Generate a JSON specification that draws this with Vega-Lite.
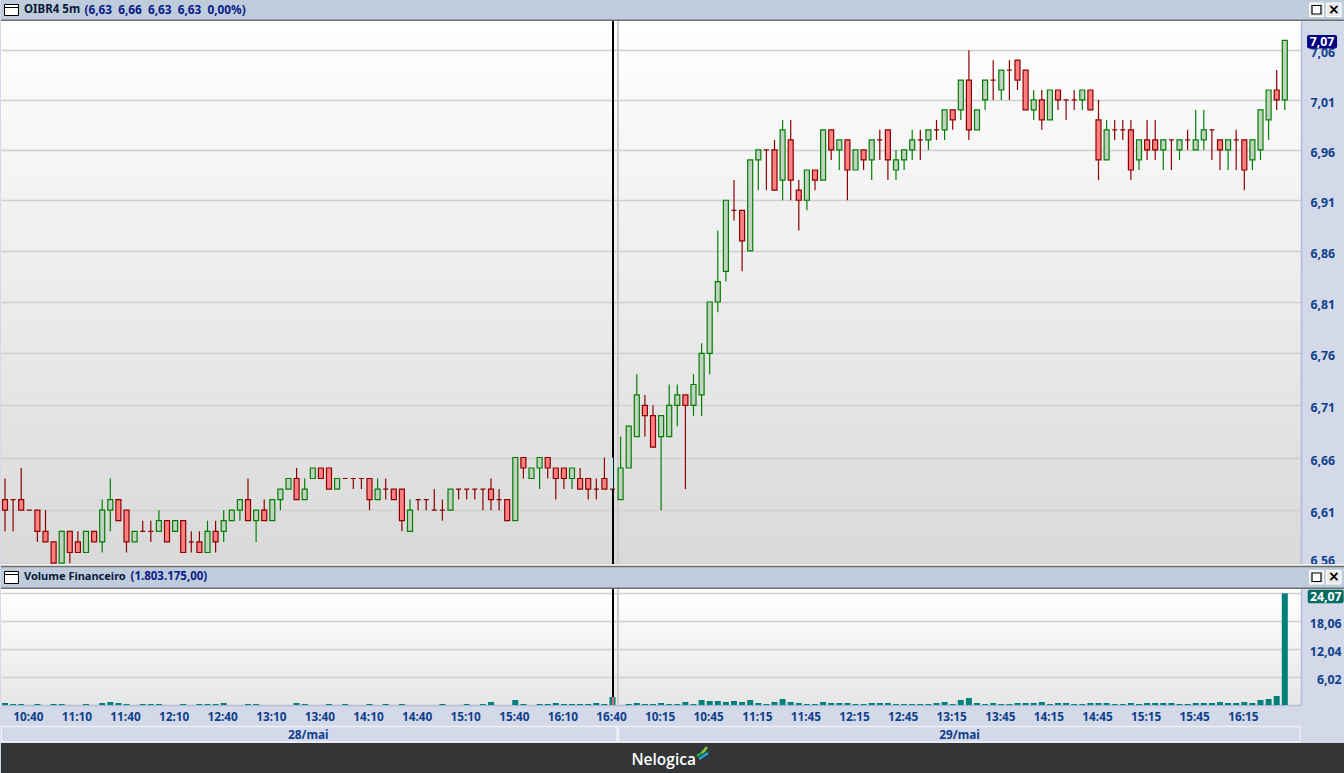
{"$schema":"https://vega.github.io/schema/vega-lite/v6.json","background":"#D3D9E9","padding":0,"spacing":0,"bounds":"flush","config":{"view":{"stroke":null},"axisX":{"grid":false}},
"datasets":{"candles":[
{"i":0,"o":6.62,"h":6.64,"l":6.59,"c":6.61,"v":0.43},{"i":1,"o":6.62,"h":6.62,"l":6.59,"c":6.62,"v":0.22},{"i":2,"o":6.62,"h":6.65,"l":6.61,"c":6.61,"v":0.22},{"i":3,"o":6.61,"h":6.61,"l":6.61,"c":6.61,"v":0},{"i":4,"o":6.61,"h":6.61,"l":6.58,"c":6.59,"v":0.22},{"i":5,"o":6.59,"h":6.61,"l":6.58,"c":6.58,"v":0},{"i":6,"o":6.58,"h":6.58,"l":6.56,"c":6.56,"v":0.22},{"i":7,"o":6.56,"h":6.59,"l":6.56,"c":6.59,"v":0.22},{"i":8,"o":6.59,"h":6.59,"l":6.56,"c":6.57,"v":0},{"i":9,"o":6.58,"h":6.59,"l":6.57,"c":6.57,"v":0},
{"i":10,"o":6.57,"h":6.59,"l":6.57,"c":6.59,"v":0.22},{"i":11,"o":6.59,"h":6.59,"l":6.58,"c":6.58,"v":0},{"i":12,"o":6.58,"h":6.62,"l":6.57,"c":6.61,"v":0.43},{"i":13,"o":6.61,"h":6.64,"l":6.59,"c":6.62,"v":0.65},{"i":14,"o":6.62,"h":6.62,"l":6.6,"c":6.6,"v":0.43},{"i":15,"o":6.61,"h":6.61,"l":6.57,"c":6.58,"v":0.22},{"i":16,"o":6.58,"h":6.59,"l":6.58,"c":6.59,"v":0},{"i":17,"o":6.59,"h":6.6,"l":6.59,"c":6.59,"v":0.22},{"i":18,"o":6.59,"h":6.6,"l":6.58,"c":6.59,"v":0.22},{"i":19,"o":6.59,"h":6.61,"l":6.59,"c":6.6,"v":0.22},
{"i":20,"o":6.6,"h":6.6,"l":6.58,"c":6.58,"v":0},{"i":21,"o":6.59,"h":6.6,"l":6.59,"c":6.6,"v":0},{"i":22,"o":6.6,"h":6.6,"l":6.57,"c":6.57,"v":0.22},{"i":23,"o":6.58,"h":6.59,"l":6.57,"c":6.58,"v":0},{"i":24,"o":6.58,"h":6.59,"l":6.57,"c":6.57,"v":0.22},{"i":25,"o":6.57,"h":6.6,"l":6.57,"c":6.59,"v":0.22},{"i":26,"o":6.59,"h":6.6,"l":6.57,"c":6.58,"v":0.22},{"i":27,"o":6.59,"h":6.61,"l":6.58,"c":6.6,"v":0.43},{"i":28,"o":6.6,"h":6.61,"l":6.6,"c":6.61,"v":0},{"i":29,"o":6.61,"h":6.62,"l":6.6,"c":6.62,"v":0},
{"i":30,"o":6.62,"h":6.64,"l":6.6,"c":6.6,"v":0.22},{"i":31,"o":6.6,"h":6.61,"l":6.58,"c":6.61,"v":0.22},{"i":32,"o":6.61,"h":6.62,"l":6.6,"c":6.6,"v":0},{"i":33,"o":6.6,"h":6.62,"l":6.6,"c":6.62,"v":0},{"i":34,"o":6.62,"h":6.63,"l":6.61,"c":6.63,"v":0},{"i":35,"o":6.63,"h":6.64,"l":6.63,"c":6.64,"v":0},{"i":36,"o":6.64,"h":6.65,"l":6.62,"c":6.62,"v":0.43},{"i":37,"o":6.62,"h":6.64,"l":6.62,"c":6.63,"v":0.22},{"i":38,"o":6.64,"h":6.65,"l":6.64,"c":6.65,"v":0},{"i":39,"o":6.65,"h":6.65,"l":6.64,"c":6.64,"v":0},
{"i":40,"o":6.65,"h":6.65,"l":6.63,"c":6.63,"v":0.22},{"i":41,"o":6.63,"h":6.64,"l":6.63,"c":6.64,"v":0},{"i":42,"o":6.64,"h":6.64,"l":6.64,"c":6.64,"v":0.22},{"i":43,"o":6.64,"h":6.64,"l":6.63,"c":6.64,"v":0},{"i":44,"o":6.64,"h":6.64,"l":6.63,"c":6.64,"v":0},{"i":45,"o":6.64,"h":6.64,"l":6.61,"c":6.62,"v":0.22},{"i":46,"o":6.62,"h":6.64,"l":6.62,"c":6.63,"v":0},{"i":47,"o":6.63,"h":6.64,"l":6.62,"c":6.63,"v":0.22},{"i":48,"o":6.63,"h":6.63,"l":6.62,"c":6.62,"v":0},{"i":49,"o":6.63,"h":6.63,"l":6.59,"c":6.6,"v":0.22},
{"i":50,"o":6.59,"h":6.62,"l":6.59,"c":6.61,"v":0},{"i":51,"o":6.62,"h":6.62,"l":6.61,"c":6.62,"v":0},{"i":52,"o":6.62,"h":6.62,"l":6.61,"c":6.62,"v":0},{"i":53,"o":6.61,"h":6.63,"l":6.61,"c":6.61,"v":0},{"i":54,"o":6.61,"h":6.62,"l":6.6,"c":6.61,"v":0.22},{"i":55,"o":6.61,"h":6.63,"l":6.61,"c":6.63,"v":0},{"i":56,"o":6.63,"h":6.63,"l":6.62,"c":6.63,"v":0},{"i":57,"o":6.63,"h":6.63,"l":6.62,"c":6.63,"v":0.22},{"i":58,"o":6.63,"h":6.63,"l":6.62,"c":6.63,"v":0},{"i":59,"o":6.63,"h":6.63,"l":6.61,"c":6.63,"v":0.22},
{"i":60,"o":6.63,"h":6.64,"l":6.61,"c":6.62,"v":0.65},{"i":61,"o":6.62,"h":6.63,"l":6.61,"c":6.62,"v":0},{"i":62,"o":6.62,"h":6.62,"l":6.6,"c":6.6,"v":0},{"i":63,"o":6.6,"h":6.66,"l":6.6,"c":6.66,"v":1.08},{"i":64,"o":6.66,"h":6.66,"l":6.64,"c":6.65,"v":0.22},{"i":65,"o":6.64,"h":6.65,"l":6.64,"c":6.65,"v":0},{"i":66,"o":6.65,"h":6.66,"l":6.63,"c":6.66,"v":0.22},{"i":67,"o":6.66,"h":6.66,"l":6.64,"c":6.65,"v":0.22},{"i":68,"o":6.65,"h":6.65,"l":6.62,"c":6.64,"v":0.43},{"i":69,"o":6.65,"h":6.65,"l":6.63,"c":6.64,"v":0.22},
{"i":70,"o":6.64,"h":6.65,"l":6.63,"c":6.65,"v":0.22},{"i":71,"o":6.64,"h":6.65,"l":6.63,"c":6.63,"v":0.22},{"i":72,"o":6.64,"h":6.64,"l":6.62,"c":6.63,"v":0.22},{"i":73,"o":6.63,"h":6.64,"l":6.62,"c":6.63,"v":0.43},{"i":74,"o":6.64,"h":6.66,"l":6.63,"c":6.63,"v":0.22},{"i":75,"o":6.63,"h":6.66,"l":6.63,"c":6.63,"v":1.72},{"i":76,"o":6.62,"h":6.68,"l":6.62,"c":6.65,"v":0},{"i":77,"o":6.65,"h":6.69,"l":6.65,"c":6.69,"v":0.22},{"i":78,"o":6.68,"h":6.74,"l":6.68,"c":6.72,"v":0.43},{"i":79,"o":6.71,"h":6.72,"l":6.68,"c":6.7,"v":0.22},
{"i":80,"o":6.7,"h":6.71,"l":6.67,"c":6.67,"v":0.22},{"i":81,"o":6.68,"h":6.7,"l":6.61,"c":6.7,"v":0.43},{"i":82,"o":6.68,"h":6.73,"l":6.68,"c":6.71,"v":0.22},{"i":83,"o":6.71,"h":6.73,"l":6.69,"c":6.72,"v":0.22},{"i":84,"o":6.72,"h":6.72,"l":6.63,"c":6.71,"v":0.65},{"i":85,"o":6.71,"h":6.74,"l":6.7,"c":6.73,"v":0.22},{"i":86,"o":6.72,"h":6.77,"l":6.7,"c":6.76,"v":1.08},{"i":87,"o":6.76,"h":6.81,"l":6.74,"c":6.81,"v":0.86},{"i":88,"o":6.81,"h":6.88,"l":6.8,"c":6.83,"v":0.86},{"i":89,"o":6.84,"h":6.91,"l":6.83,"c":6.91,"v":0.65},
{"i":90,"o":6.9,"h":6.93,"l":6.89,"c":6.9,"v":0.86},{"i":91,"o":6.9,"h":6.9,"l":6.84,"c":6.87,"v":0.65},{"i":92,"o":6.86,"h":6.95,"l":6.86,"c":6.95,"v":1.08},{"i":93,"o":6.95,"h":6.96,"l":6.92,"c":6.96,"v":0.43},{"i":94,"o":6.96,"h":6.96,"l":6.92,"c":6.96,"v":0.22},{"i":95,"o":6.96,"h":6.97,"l":6.92,"c":6.92,"v":0.65},{"i":96,"o":6.93,"h":6.99,"l":6.91,"c":6.98,"v":1.29},{"i":97,"o":6.97,"h":6.99,"l":6.91,"c":6.93,"v":0.65},{"i":98,"o":6.92,"h":6.93,"l":6.88,"c":6.91,"v":0.43},{"i":99,"o":6.91,"h":6.94,"l":6.9,"c":6.94,"v":0.22},
{"i":100,"o":6.94,"h":6.94,"l":6.92,"c":6.93,"v":0.22},{"i":101,"o":6.93,"h":6.98,"l":6.93,"c":6.98,"v":0.65},{"i":102,"o":6.98,"h":6.98,"l":6.95,"c":6.96,"v":0.43},{"i":103,"o":6.96,"h":6.97,"l":6.94,"c":6.97,"v":0.43},{"i":104,"o":6.97,"h":6.97,"l":6.91,"c":6.94,"v":0.43},{"i":105,"o":6.94,"h":6.96,"l":6.94,"c":6.96,"v":0.22},{"i":106,"o":6.96,"h":6.96,"l":6.94,"c":6.95,"v":0.22},{"i":107,"o":6.95,"h":6.97,"l":6.93,"c":6.97,"v":0.43},{"i":108,"o":6.97,"h":6.98,"l":6.95,"c":6.97,"v":0.43},{"i":109,"o":6.98,"h":6.98,"l":6.93,"c":6.95,"v":0.43},
{"i":110,"o":6.94,"h":6.96,"l":6.93,"c":6.95,"v":0.22},{"i":111,"o":6.95,"h":6.96,"l":6.94,"c":6.96,"v":0.22},{"i":112,"o":6.96,"h":6.98,"l":6.95,"c":6.97,"v":0.22},{"i":113,"o":6.97,"h":6.98,"l":6.95,"c":6.97,"v":0.22},{"i":114,"o":6.97,"h":6.98,"l":6.96,"c":6.98,"v":0.22},{"i":115,"o":6.98,"h":6.99,"l":6.97,"c":6.98,"v":0.43},{"i":116,"o":6.98,"h":7,"l":6.97,"c":7,"v":0.65},{"i":117,"o":7,"h":7,"l":6.98,"c":6.99,"v":0.22},{"i":118,"o":7,"h":7.03,"l":6.99,"c":7.03,"v":1.08},{"i":119,"o":7.03,"h":7.06,"l":6.97,"c":6.98,"v":1.5},
{"i":120,"o":6.98,"h":7,"l":6.98,"c":7,"v":0.43},{"i":121,"o":7.01,"h":7.03,"l":7,"c":7.03,"v":0.22},{"i":122,"o":7.03,"h":7.05,"l":7.01,"c":7.03,"v":0.43},{"i":123,"o":7.02,"h":7.04,"l":7.01,"c":7.04,"v":0.22},{"i":124,"o":7.04,"h":7.05,"l":7.01,"c":7.04,"v":0.22},{"i":125,"o":7.05,"h":7.05,"l":7.02,"c":7.03,"v":0.43},{"i":126,"o":7.04,"h":7.04,"l":7,"c":7,"v":0.43},{"i":127,"o":7,"h":7.02,"l":6.99,"c":7.01,"v":0.43},{"i":128,"o":7.01,"h":7.02,"l":6.98,"c":6.99,"v":0.65},{"i":129,"o":6.99,"h":7.02,"l":6.99,"c":7.02,"v":0.22},
{"i":130,"o":7.02,"h":7.02,"l":7,"c":7.01,"v":0.43},{"i":131,"o":7.01,"h":7.01,"l":6.99,"c":7.01,"v":0.43},{"i":132,"o":7.01,"h":7.02,"l":7,"c":7.01,"v":0.22},{"i":133,"o":7.01,"h":7.02,"l":7,"c":7.02,"v":0.22},{"i":134,"o":7.02,"h":7.02,"l":7,"c":7,"v":0.43},{"i":135,"o":6.99,"h":7.01,"l":6.93,"c":6.95,"v":0.43},{"i":136,"o":6.95,"h":6.99,"l":6.95,"c":6.98,"v":0.43},{"i":137,"o":6.98,"h":6.99,"l":6.97,"c":6.98,"v":0.22},{"i":138,"o":6.98,"h":6.99,"l":6.97,"c":6.98,"v":0.22},{"i":139,"o":6.98,"h":6.99,"l":6.93,"c":6.94,"v":0.43},
{"i":140,"o":6.95,"h":6.97,"l":6.94,"c":6.97,"v":0.22},{"i":141,"o":6.97,"h":6.99,"l":6.95,"c":6.96,"v":0.43},{"i":142,"o":6.97,"h":6.99,"l":6.95,"c":6.96,"v":0.43},{"i":143,"o":6.96,"h":6.97,"l":6.94,"c":6.97,"v":0.43},{"i":144,"o":6.97,"h":6.97,"l":6.94,"c":6.97,"v":0.43},{"i":145,"o":6.96,"h":6.97,"l":6.95,"c":6.97,"v":0.22},{"i":146,"o":6.97,"h":6.98,"l":6.96,"c":6.97,"v":0.22},{"i":147,"o":6.96,"h":7,"l":6.96,"c":6.97,"v":0.43},{"i":148,"o":6.97,"h":7,"l":6.96,"c":6.98,"v":0.43},{"i":149,"o":6.98,"h":6.98,"l":6.95,"c":6.98,"v":0.43},
{"i":150,"o":6.97,"h":6.97,"l":6.94,"c":6.96,"v":0.65},{"i":151,"o":6.96,"h":6.97,"l":6.94,"c":6.97,"v":0.43},{"i":152,"o":6.97,"h":6.98,"l":6.94,"c":6.97,"v":0.43},{"i":153,"o":6.97,"h":6.97,"l":6.92,"c":6.94,"v":0.65},{"i":154,"o":6.95,"h":6.97,"l":6.94,"c":6.97,"v":0.43},{"i":155,"o":6.96,"h":7,"l":6.95,"c":7,"v":1.08},{"i":156,"o":6.99,"h":7.02,"l":6.97,"c":7.02,"v":1.29},{"i":157,"o":7.02,"h":7.04,"l":7,"c":7.01,"v":1.94},{"i":158,"o":7.01,"h":7.07,"l":7,"c":7.07,"v":24.07}]},
"vconcat":[
{"width":1344,"height":21,"view":{"fill":"#BFCCDB","stroke":null},"data":{"values":[{"panel":"price"}]},"layer":[
{"mark":{"type":"rule","color":"#6E6E6E","strokeWidth":1.5},"encoding":{"x":{"datum":0,"type":"quantitative","scale":{"domain":[0,1344],"nice":false},"axis":null},"x2":{"datum":1344},"y":{"datum":20.2,"type":"quantitative","scale":{"domain":[0,21],"reverse":true,"nice":false},"axis":null}}},
{"mark":{"type":"rect","fill":"#FFFFFF","stroke":"#000000","strokeWidth":1},"encoding":{"x":{"datum":3.5,"type":"quantitative","axis":null},"x2":{"datum":17.5},"y":{"datum":4.5,"type":"quantitative","axis":null},"y2":{"datum":15.5}}},
{"mark":{"type":"rule","color":"#000000","strokeWidth":1},"encoding":{"x":{"datum":3.5,"type":"quantitative","axis":null},"x2":{"datum":17.5},"y":{"datum":7.5,"type":"quantitative","axis":null}}},
{"mark":{"type":"rect","fill":"#E9E9E9","stroke":"#FFFFFF","strokeWidth":1},"encoding":{"x":{"datum":1308.5,"type":"quantitative","axis":null},"x2":{"datum":1322.5},"y":{"datum":3,"type":"quantitative","axis":null},"y2":{"datum":16.5}}},
{"mark":{"type":"rect","fill":"#FFFFFF","stroke":"#000000","strokeWidth":1.2},"encoding":{"x":{"datum":1311,"type":"quantitative","axis":null},"x2":{"datum":1320},"y":{"datum":5.5,"type":"quantitative","axis":null},"y2":{"datum":14}}},
{"mark":{"type":"rect","fill":"#E9E9E9","stroke":"#FFFFFF","strokeWidth":1},"encoding":{"x":{"datum":1325.5,"type":"quantitative","axis":null},"x2":{"datum":1340},"y":{"datum":3,"type":"quantitative","axis":null},"y2":{"datum":16.5}}},
{"mark":{"type":"text","text":"×","font":"DejaVu Sans","fontWeight":"bold","fontSize":14,"color":"#000000","baseline":"middle","align":"center"},"encoding":{"x":{"datum":1332.8,"type":"quantitative","axis":null},"y":{"datum":9.5,"type":"quantitative","axis":null}}},
{"mark":{"type":"text","text":"OIBR4 5m","font":"Noto Sans","fontWeight":"bold","fontSize":11.5,"color":"#0A1A3A","baseline":"middle","align":"left"},"encoding":{"x":{"datum":23,"type":"quantitative","axis":null},"y":{"datum":9.5,"type":"quantitative","axis":null}}},
{"mark":{"type":"text","text":"(6,63\u00a0\u00a06,66\u00a0\u00a06,63\u00a0\u00a06,63\u00a0\u00a00,00%)","font":"Noto Sans","fontWeight":"bold","fontSize":11.8,"color":"#0A1A8C","baseline":"middle","align":"left"},"encoding":{"x":{"datum":83.5,"type":"quantitative","axis":null},"y":{"datum":9.5,"type":"quantitative","axis":null}}}
]},
{"width":1300,"height":543,"view":{"fill":{"x1":0,"y1":0,"x2":0,"y2":1,"gradient":"linear","stops":[{"offset":0,"color":"#FFFFFF"},{"offset":1,"color":"#D9D9D9"}]},"stroke":null},"data":{"name":"candles"},"layer":[
{"mark":{"type":"rule","color":"#000000","strokeWidth":1},"encoding":{"x":{"datum":75.1,"type":"quantitative","scale":{"domain":[-0.494,160],"nice":false,"padding":0},"axis":null},"y":{"datum":7.0897,"type":"quantitative","title":null,"scale":{"type":"log","domain":[6.5592,7.0897],"nice":false,"zero":false,"padding":0},"axis":{"orient":"right","title":null,"values":[6.56,6.61,6.66,6.71,6.76,6.81,6.86,6.91,6.96,7.01,7.06],"tickCount":20,"grid":true,"gridColor":"#CFCFCF","gridWidth":1.3,"ticks":false,"domain":true,"domainColor":"#B4BCD2","domainWidth":1.5,"labelAlign":"left","labelPadding":9,"labelFont":"Noto Sans","labelFontWeight":"bold","labelFontSize":12.3,"labelColor":"#0F3F8C","labelFlush":false,"labelBound":false,"labelOverlap":false,"labelOffset":{"condition":{"test":"datum.value<6.57","value":-3},"value":2.5},"labelExpr":"replace(format(datum.value,'.2f'),'.',',')"}},"y2":{"datum":6.5592}}},
{"mark":{"type":"rule","color":"#CCCCCC","strokeWidth":1.5},"encoding":{"x":{"datum":75.65,"type":"quantitative","axis":null},"y":{"datum":7.0897,"type":"quantitative","title":null},"y2":{"datum":6.5592}}},
{"mark":{"type":"rule","strokeWidth":1.2},"encoding":{"x":{"field":"i","type":"quantitative","axis":null},"y":{"field":"l","type":"quantitative","title":null},"y2":{"field":"h"},"color":{"condition":[{"test":"datum.i==75","value":"#A8F2FF"},{"test":"datum.c>datum.o","value":"#008000"}],"value":"#8B0000"},"strokeWidth":{"condition":{"test":"datum.i==75","value":2.2},"value":1.2}}},
{"mark":{"type":"bar","size":5,"strokeWidth":1.2,"orient":"vertical"},"encoding":{"x":{"field":"i","type":"quantitative","axis":null},"y":{"field":"o","type":"quantitative","title":null,"stack":null},"y2":{"field":"c"},"fill":{"condition":{"test":"datum.c>datum.o","value":"#C2D1C2"},"value":"#FF8080"},"stroke":{"condition":{"test":"datum.c>datum.o","value":"#008000"},"value":"#8B0000"}}},
{"data":{"values":[{"last":7.07}]},"mark":{"type":"bar","size":13.5,"fill":"#000080","cornerRadius":2,"orient":"horizontal","yOffset":1.3},"encoding":{"x":{"datum":160.75,"type":"quantitative","axis":null},"x2":{"datum":164.45},"y":{"field":"last","type":"quantitative","title":null}}},
{"data":{"values":[{"last":7.07}]},"mark":{"type":"text","font":"Noto Sans","fontWeight":"bold","fontSize":12.3,"color":"#FFFFFF","align":"center","baseline":"middle","yOffset":1.3},"encoding":{"x":{"datum":162.6,"type":"quantitative","axis":null},"y":{"field":"last","type":"quantitative","title":null},"text":{"value":"7,07"}}}
]},
{"width":1344,"height":25,"view":{"fill":"#BFCCDB","stroke":null},"data":{"values":[{"panel":"volume"}]},"layer":[
{"mark":{"type":"rule","color":"#F2F2F2","strokeWidth":2},"encoding":{"x":{"datum":0,"type":"quantitative","scale":{"domain":[0,1344],"nice":false},"axis":null},"x2":{"datum":1344},"y":{"datum":1,"type":"quantitative","scale":{"domain":[0,25],"reverse":true,"nice":false},"axis":null}}},
{"mark":{"type":"rule","color":"#6E6E6E","strokeWidth":1.5},"encoding":{"x":{"datum":0,"type":"quantitative","axis":null},"x2":{"datum":1344},"y":{"datum":2.6,"type":"quantitative","axis":null}}},
{"mark":{"type":"rule","color":"#6E6E6E","strokeWidth":1.5},"encoding":{"x":{"datum":0,"type":"quantitative","axis":null},"x2":{"datum":1344},"y":{"datum":24.2,"type":"quantitative","axis":null}}},
{"mark":{"type":"rect","fill":"#FFFFFF","stroke":"#000000","strokeWidth":1},"encoding":{"x":{"datum":3.5,"type":"quantitative","axis":null},"x2":{"datum":17.5},"y":{"datum":7.5,"type":"quantitative","axis":null},"y2":{"datum":19.5}}},
{"mark":{"type":"rule","color":"#000000","strokeWidth":1},"encoding":{"x":{"datum":3.5,"type":"quantitative","axis":null},"x2":{"datum":17.5},"y":{"datum":10.5,"type":"quantitative","axis":null}}},
{"mark":{"type":"rect","fill":"#E9E9E9","stroke":"#FFFFFF","strokeWidth":1},"encoding":{"x":{"datum":1308.5,"type":"quantitative","axis":null},"x2":{"datum":1322.5},"y":{"datum":6.5,"type":"quantitative","axis":null},"y2":{"datum":20}}},
{"mark":{"type":"rect","fill":"#FFFFFF","stroke":"#000000","strokeWidth":1.2},"encoding":{"x":{"datum":1311,"type":"quantitative","axis":null},"x2":{"datum":1320},"y":{"datum":9,"type":"quantitative","axis":null},"y2":{"datum":17.5}}},
{"mark":{"type":"rect","fill":"#E9E9E9","stroke":"#FFFFFF","strokeWidth":1},"encoding":{"x":{"datum":1325.5,"type":"quantitative","axis":null},"x2":{"datum":1340},"y":{"datum":6.5,"type":"quantitative","axis":null},"y2":{"datum":20}}},
{"mark":{"type":"text","text":"×","font":"DejaVu Sans","fontWeight":"bold","fontSize":14,"color":"#000000","baseline":"middle","align":"center"},"encoding":{"x":{"datum":1332.8,"type":"quantitative","axis":null},"y":{"datum":13,"type":"quantitative","axis":null}}},
{"mark":{"type":"text","text":"Volume Financeiro","font":"Noto Sans","fontWeight":"bold","fontSize":11,"color":"#0A1A3A","baseline":"middle","align":"left"},"encoding":{"x":{"datum":23,"type":"quantitative","axis":null},"y":{"datum":13,"type":"quantitative","axis":null}}},
{"mark":{"type":"text","text":"(1.803.175,00)","font":"Noto Sans","fontWeight":"bold","fontSize":11.5,"color":"#0A1A8C","baseline":"middle","align":"left"},"encoding":{"x":{"datum":129.5,"type":"quantitative","axis":null},"y":{"datum":13,"type":"quantitative","axis":null}}}
]},
{"width":1300,"height":116,"view":{"fill":{"x1":0,"y1":0,"x2":0,"y2":1,"gradient":"linear","stops":[{"offset":0,"color":"#FFFFFF"},{"offset":1,"color":"#E6E6E6"}]},"stroke":null},"data":{"name":"candles"},"layer":[
{"mark":{"type":"rule","color":"#CCCCCC","strokeWidth":1.5},"encoding":{"x":{"datum":75.65,"type":"quantitative","title":null,"scale":{"domain":[-0.494,160],"nice":false,"padding":0},"axis":{"orient":"bottom","title":null,"grid":false,"ticks":false,"domain":true,"domainColor":"#B4BCD2","domainWidth":1.5,"values":[3,9,15,21,27,33,39,45,51,57,63,69,75,81,87,93,99,105,111,117,123,129,135,141,147,153],"tickCount":40,"labelFont":"Noto Sans","labelFontWeight":"bold","labelFontSize":11.8,"labelColor":"#0F3F8C","labelPadding":6,"labelOffset":-1.5,"labelFlush":false,"labelBound":false,"labelOverlap":false,"labelExpr":"{'3':'10:40','9':'11:10','15':'11:40','21':'12:10','27':'12:40','33':'13:10','39':'13:40','45':'14:10','51':'14:40','57':'15:10','63':'15:40','69':'16:10','75':'16:40','81':'10:15','87':'10:45','93':'11:15','99':'11:45','105':'12:15','111':'12:45','117':'13:15','123':'13:45','129':'14:15','135':'14:45','141':'15:15','147':'15:45','153':'16:15'}[datum.value]"}},"y":{"datum":25,"type":"quantitative","title":null,"scale":{"domain":[0,25],"nice":false,"padding":0},"axis":{"orient":"right","title":null,"values":[6.02,12.04,18.06,24.07],"tickCount":10,"grid":true,"gridColor":"#CFCFCF","gridWidth":1.3,"ticks":false,"domain":true,"domainColor":"#B4BCD2","domainWidth":1.5,"labelAlign":"right","labelPadding":40,"labelFont":"Noto Sans","labelFontWeight":"bold","labelFontSize":12.3,"labelColor":"#0F3F8C","labelFlush":false,"labelBound":false,"labelOverlap":false,"labelOffset":2,"labelExpr":"datum.value>24?'':replace(format(datum.value,'.2f'),'.',',')"}},"y2":{"datum":0}}},
{"mark":{"type":"bar","size":6,"fill":"#00807A","orient":"vertical"},"encoding":{"x":{"field":"i","type":"quantitative","title":null},"y":{"field":"v","type":"quantitative","title":null,"stack":null}}},
{"mark":{"type":"rule","color":"#000000","strokeWidth":1},"encoding":{"x":{"datum":75.1,"type":"quantitative","title":null},"y":{"datum":25,"type":"quantitative","title":null},"y2":{"datum":1.72}}},
{"mark":{"type":"rule","color":"#E07070","strokeWidth":1},"encoding":{"x":{"datum":75.1,"type":"quantitative","title":null},"y":{"datum":1.72,"type":"quantitative","title":null},"y2":{"datum":0}}},
{"data":{"values":[{"last":24.07}]},"mark":{"type":"bar","size":13.5,"fill":"#006B60","cornerRadius":2,"orient":"horizontal","yOffset":3.3},"encoding":{"x":{"datum":160.83,"type":"quantitative","title":null},"x2":{"datum":165.27},"y":{"field":"last","type":"quantitative","title":null}}},
{"data":{"values":[{"last":24.07}]},"mark":{"type":"text","font":"Noto Sans","fontWeight":"bold","fontSize":12.3,"color":"#FFFFFF","align":"center","baseline":"middle","yOffset":3.3},"encoding":{"x":{"datum":163.05,"type":"quantitative","title":null},"y":{"field":"last","type":"quantitative","title":null},"text":{"value":"24,07"}}}
]},
{"width":1300,"height":38,"data":{"values":[{"day":"28/mai","first":-0.45,"last":75.55,"mid":37.45},{"day":"29/mai","first":75.75,"last":159.85,"mid":117.85}]},"layer":[
{"mark":{"type":"rect","fill":"#D3D9E9","stroke":"#EEF0F7","strokeWidth":1.4},"encoding":{"x":{"field":"first","type":"quantitative","scale":{"domain":[-0.494,160],"nice":false},"axis":null},"x2":{"field":"last"},"y":{"datum":21.5,"type":"quantitative","scale":{"domain":[0,38],"reverse":true,"nice":false},"axis":null},"y2":{"datum":37}}},
{"mark":{"type":"text","font":"Noto Sans","fontWeight":"bold","fontSize":11.8,"color":"#0F3F8C","align":"center","baseline":"middle"},"encoding":{"x":{"field":"mid","type":"quantitative","axis":null},"y":{"datum":29.5,"type":"quantitative","axis":null},"text":{"field":"day"}}}
]},
{"width":1344,"height":30,"view":{"fill":"#333537","stroke":null},"data":{"values":[{"brand":"Nelogica"}]},"layer":[
{"mark":{"type":"text","font":"Open Sans","fontWeight":600,"fontSize":15.5,"color":"#FFFFFF","align":"center","baseline":"middle"},"encoding":{"x":{"datum":662.7,"type":"quantitative","scale":{"domain":[0,1344],"nice":false},"axis":null},"y":{"datum":16.5,"type":"quantitative","scale":{"domain":[0,30],"reverse":true,"nice":false},"axis":null},"text":{"field":"brand"}}},
{"mark":{"type":"rule","color":"#22B14C","strokeWidth":2.5},"encoding":{"x":{"datum":696,"type":"quantitative","axis":null},"x2":{"datum":705},"y":{"datum":13,"type":"quantitative","axis":null},"y2":{"datum":7}}},
{"mark":{"type":"rule","color":"#8CC63F","strokeWidth":2.5},"encoding":{"x":{"datum":701,"type":"quantitative","axis":null},"x2":{"datum":706},"y":{"datum":10,"type":"quantitative","axis":null},"y2":{"datum":4}}},
{"mark":{"type":"rule","color":"#1EA7E1","strokeWidth":2.5},"encoding":{"x":{"datum":698,"type":"quantitative","axis":null},"x2":{"datum":707},"y":{"datum":16,"type":"quantitative","axis":null},"y2":{"datum":10}}}
]}
]}
